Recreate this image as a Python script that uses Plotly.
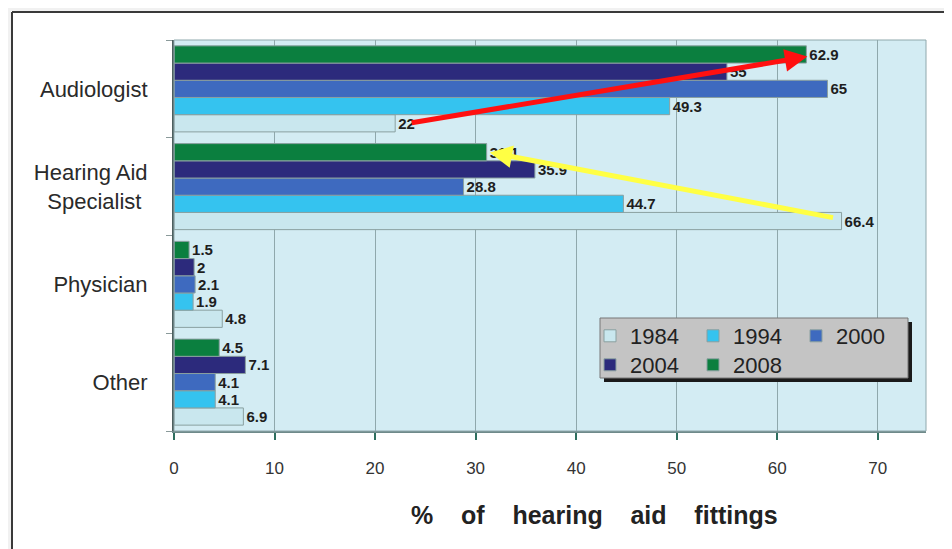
import plotly.graph_objects as go

# ---- data ----
categories = ["Other", "Physician", "Hearing Aid<br>Specialist", "Audiologist"]  # bottom -> top
category_labels = ["Other", "Physician", "Hearing Aid<br>Specialist\u00a0", "Audiologist"]
years = ["1984", "1994", "2000", "2004", "2008"]
v1984 = [6.9, 4.8, 66.4, 22]
v1994 = [4.1, 1.9, 44.7, 49.3]
v2000 = [4.1, 2.1, 28.8, 65]
v2004 = [7.1, 2, 35.9, 55]
v2008 = [4.5, 1.5, 31.1, 62.9]
series = [v1984, v1994, v2000, v2004, v2008]
colors = ["#c9e7ee", "#35c3ef", "#3e6abf", "#2c2a7c", "#0b7f3f"]
x_ticks = [0, 10, 20, 30, 40, 50, 60, 70]

fig = go.Figure()
for i, (yr, vals, col) in enumerate(zip(years, series, colors)):
    fig.add_trace(go.Bar(
        y=categories, x=vals, orientation="h", name=yr,
        marker=dict(color=col, line=dict(color="#8aa0a0", width=1)),
        text=[f"{v:g}" for v in vals], textposition="outside",
        textfont=dict(family="Arial", size=15, color="#1e1e1e", weight="bold"),
        cliponaxis=False,
        legend="legend" if i < 3 else "legend2",
    ))

OFF = 8  # page body margin offset
W, H = 952 - OFF, 549 - OFF
L, T = 174 - OFF, 40 - OFF
R = W - (926 - OFF)
B = H - (431 - OFF)
pw, ph = W - L - R, H - T - B

def px(xpix):  # screen pixel -> paper
    return (xpix - OFF - L) / pw

def py(ypix):
    return (H - B - (ypix - OFF)) / ph

shapes = [
    # outside light-gray page strips
    dict(type="rect", xref="paper", yref="paper", x0=px(0), x1=px(960), y0=py(11), y1=py(0),
         fillcolor="#f1f1f1", line=dict(width=0), layer="below"),
    dict(type="rect", xref="paper", yref="paper", x0=px(0), x1=px(11), y0=py(560), y1=py(0),
         fillcolor="#f1f1f1", line=dict(width=0), layer="below"),
    # frame lines
    dict(type="line", xref="paper", yref="paper", x0=px(12), x1=px(960), y0=py(12), y1=py(12),
         line=dict(color="#3a3a3a", width=2)),
    dict(type="line", xref="paper", yref="paper", x0=px(12), x1=px(12), y0=py(12), y1=py(560),
         line=dict(color="#3a3a3a", width=2)),
    # legend shadow + box
    dict(type="rect", xref="paper", yref="paper", x0=px(604), x1=px(912), y0=py(382), y1=py(322),
         fillcolor="#1a1a1a", line=dict(width=0)),
    dict(type="rect", xref="paper", yref="paper", x0=px(600), x1=px(908), y0=py(378), y1=py(318),
         fillcolor="#c4c4c4", line=dict(color="#777777", width=1)),
]

annotations = [
    dict(xref="x", yref="y", axref="x", ayref="y",
         x=v2008[3] + 0.1, y=3.33, ax=v1984[3] + 1.5, ay=2.65,
         showarrow=True, arrowhead=2, arrowsize=0.9, arrowwidth=5, arrowcolor="#ff1010", text=""),
    dict(xref="x", yref="y", axref="x", ayref="y",
         x=v2008[2] + 0.3, y=2.35, ax=v1984[2] - 0.7, ay=1.68,
         showarrow=True, arrowhead=2, arrowsize=0.9, arrowwidth=5, arrowcolor="#ffff44", text=""),
    dict(xref="paper", yref="paper", x=px(594), y=py(515), xanchor="center", yanchor="middle",
         showarrow=False,
         text="%\u00a0\u00a0\u00a0\u00a0of\u00a0\u00a0\u00a0\u00a0hearing\u00a0\u00a0\u00a0\u00a0aid\u00a0\u00a0\u00a0\u00a0fittings",
         font=dict(family="Arial", size=25, color="#222222", weight="bold")),
]

legend_common = dict(
    orientation="h", xanchor="left", yanchor="top",
    bgcolor="rgba(0,0,0,0)", borderwidth=0,
    font=dict(family="Arial", size=22, color="#222222"),
    entrywidth=58, itemwidth=30, traceorder="normal",
)

fig.update_layout(
    width=W, height=H,
    margin=dict(l=L, r=R, t=T, b=B),
    paper_bgcolor="white",
    plot_bgcolor="#d3ecf3",
    barmode="group", bargap=0.12, bargroupgap=0.0,
    shapes=shapes, annotations=annotations,
    legend=dict(x=px(590), y=py(315), **legend_common),
    legend2=dict(x=px(590), y=py(344), **legend_common),
    xaxis=dict(
        range=[0, 74.8], tickvals=x_ticks, ticktext=[str(t) for t in x_ticks],
        showgrid=True, gridcolor="#8fa8ac", gridwidth=1,
        showline=True, linecolor="#6f8a8a", linewidth=2, mirror=False,
        ticks="outside", ticklen=7, tickcolor="#2f6f5f", tickwidth=2,
        tickfont=dict(family="Arial", size=17, color="#333333"),
        ticklabelstandoff=14, zeroline=False,
    ),
    yaxis=dict(
        categoryorder="array", categoryarray=categories, range=[-0.5, 3.5],
        tickmode="array", tickvals=categories, ticktext=category_labels,
        showline=True, linecolor="#4c5f5f", linewidth=2,
        ticks="outside", ticklen=6, tickcolor="#8a9a9a", tickson="boundaries",
        tickfont=dict(family="Arial", size=22, color="#2a2a2a"),
        ticklabelstandoff=20, showgrid=False,
    ),
)
# plot border (top/right)
fig.add_shape(type="rect", xref="paper", yref="paper", x0=0, x1=1, y0=0, y1=1,
              line=dict(color="#8fa8ac", width=1), fillcolor="rgba(0,0,0,0)")

fig.write_html("out.html")
